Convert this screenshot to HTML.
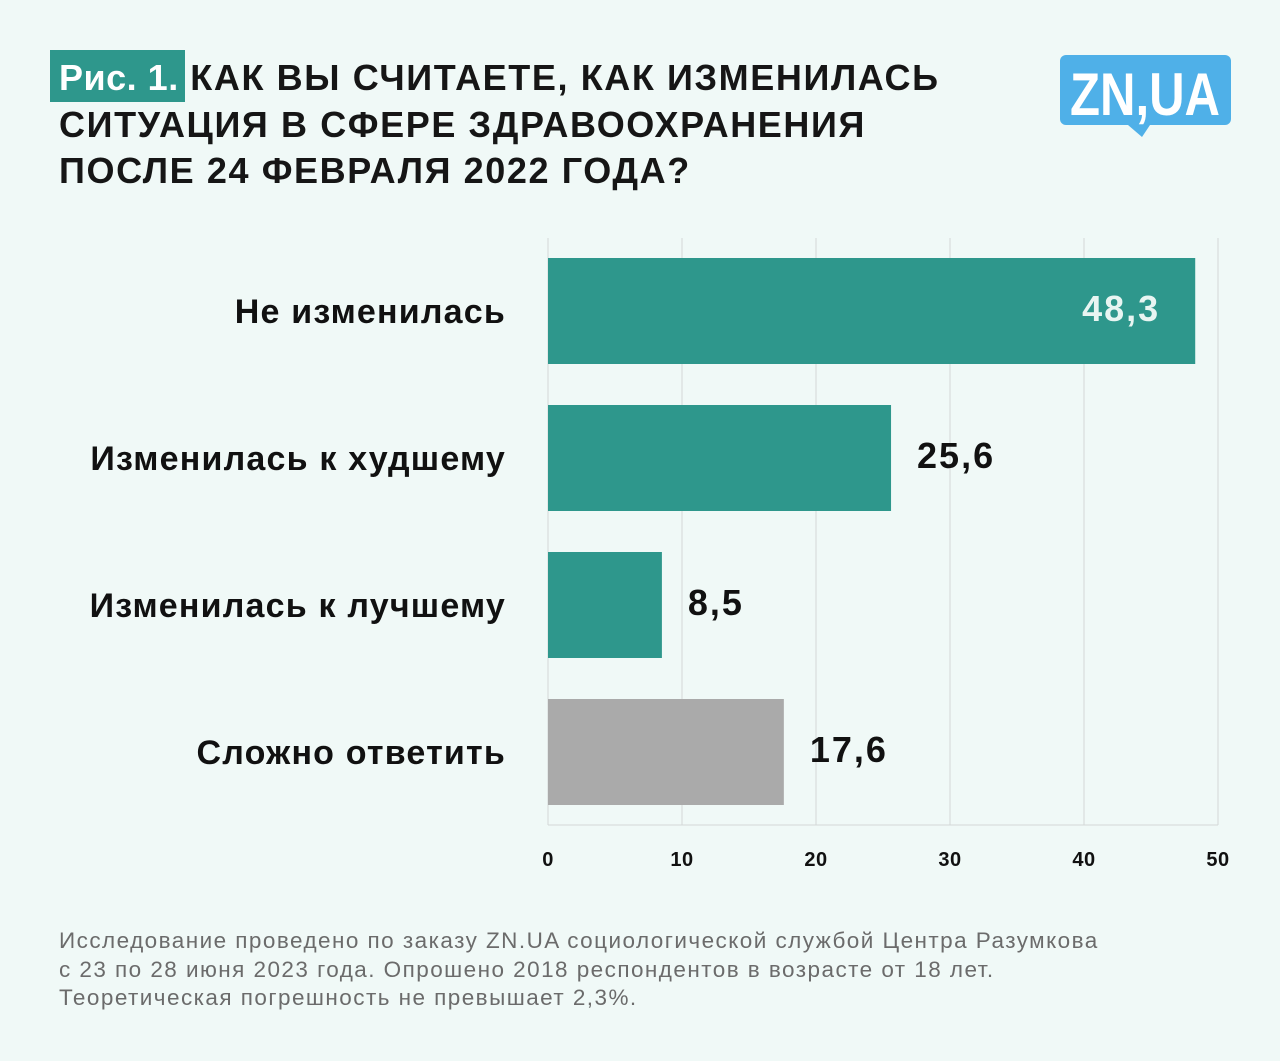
<!DOCTYPE html>
<html><head><meta charset="utf-8"><style>
body{margin:0;width:1280px;height:1061px;background:#f0f9f7;font-family:"Liberation Sans",sans-serif;overflow:hidden;position:relative}
.t{position:absolute;left:59px;top:55px;font-weight:bold;font-size:36px;line-height:46.5px;color:#161616;letter-spacing:1.6px}
.hl{position:absolute;left:-9px;top:-5px;height:52px;width:135px;background:#2e978c}
.hlt{position:relative;color:#fff;letter-spacing:0.5px}
.foot{position:absolute;left:59px;top:927px;font-size:22.5px;line-height:28.5px;color:#6b6b6b;letter-spacing:1.45px;white-space:nowrap}
</style></head><body>
<div class="t"><div class="hl"></div><span class="hlt">Рис. 1.</span> КАК ВЫ СЧИТАЕТЕ, КАК ИЗМЕНИЛАСЬ<br>СИТУАЦИЯ В СФЕРЕ ЗДРАВООХРАНЕНИЯ<br>ПОСЛЕ 24 ФЕВРАЛЯ 2022 ГОДА?</div>
<svg style="position:absolute;left:1060px;top:55px" width="172" height="84">
<rect x="0" y="0" width="171" height="70" rx="6" fill="#4fb0e8"/>
<path d="M68 70 L82 82 L90 70Z" fill="#4fb0e8"/>
<text x="85" y="60" text-anchor="middle" font-family="Liberation Sans" font-weight="bold" font-size="60" fill="#fff" textLength="150" lengthAdjust="spacingAndGlyphs">ZN,UA</text>
</svg>
<svg id="chart" width="1280" height="900" style="position:absolute;left:0;top:0"></svg>
<div class="foot">Исследование проведено по заказу ZN.UA социологической службой Центра Разумкова<br>с 23 по 28 июня 2023 года. Опрошено 2018 респондентов в возрасте от 18 лет.<br>Теоретическая погрешность не превышает 2,3%.</div>
<script>
const categories=["Не изменилась","Изменилась к худшему","Изменилась к лучшему","Сложно ответить"];
const values=[48.3,25.6,8.5,17.6];
const labels=["48,3","25,6","8,5","17,6"];
const colors=["#2e978c","#2e978c","#2e978c","#aaaaaa"];
const ticks=[0,10,20,30,40,50];
const svgEl=document.getElementById('chart');
const NS='http://www.w3.org/2000/svg';
const X0=548,X1=1218,YTOP=238,YBOT=825,BAND=147,BH=106,OFF=20;
function xs(v){return X0+v/50*(X1-X0);}
function mk(t,a){const e=document.createElementNS(NS,t);for(const k in a)e.setAttribute(k,a[k]);svgEl.appendChild(e);return e;}
ticks.forEach(t=>{
const l=mk('line',{x1:xs(t),x2:xs(t),y1:YTOP,y2:YBOT,stroke:'#d3d8d7','stroke-width':1});


const tx=mk('text',{x:xs(t),y:866,'text-anchor':'middle','font-size':20,'font-weight':'bold',fill:'#111','letter-spacing':0.5});
tx.textContent=t;


});
const bl=mk('line',{x1:X0,x2:X1,y1:YBOT,y2:YBOT,stroke:'#d3d8d7','stroke-width':1});


values.forEach((v,i)=>{
const y=YTOP+OFF+i*BAND;
const r=mk('rect',{x:X0,y:y,width:xs(v)-X0,height:BH,fill:colors[i]});


const c=mk('text',{x:506,y:y+BH/2+12,'text-anchor':'end','font-size':34,'font-weight':'bold',fill:'#111','letter-spacing':1.2});
c.textContent=categories[i];


const inside=v>40;
const vl=mk('text',{x:inside?xs(v)-35:xs(v)+26,y:y+BH/2+10,'text-anchor':inside?'end':'start','font-size':36,'font-weight':'bold',fill:inside?'#e8f5f2':'#111','letter-spacing':2});
vl.textContent=labels[i];


});
</script>
</body></html>
